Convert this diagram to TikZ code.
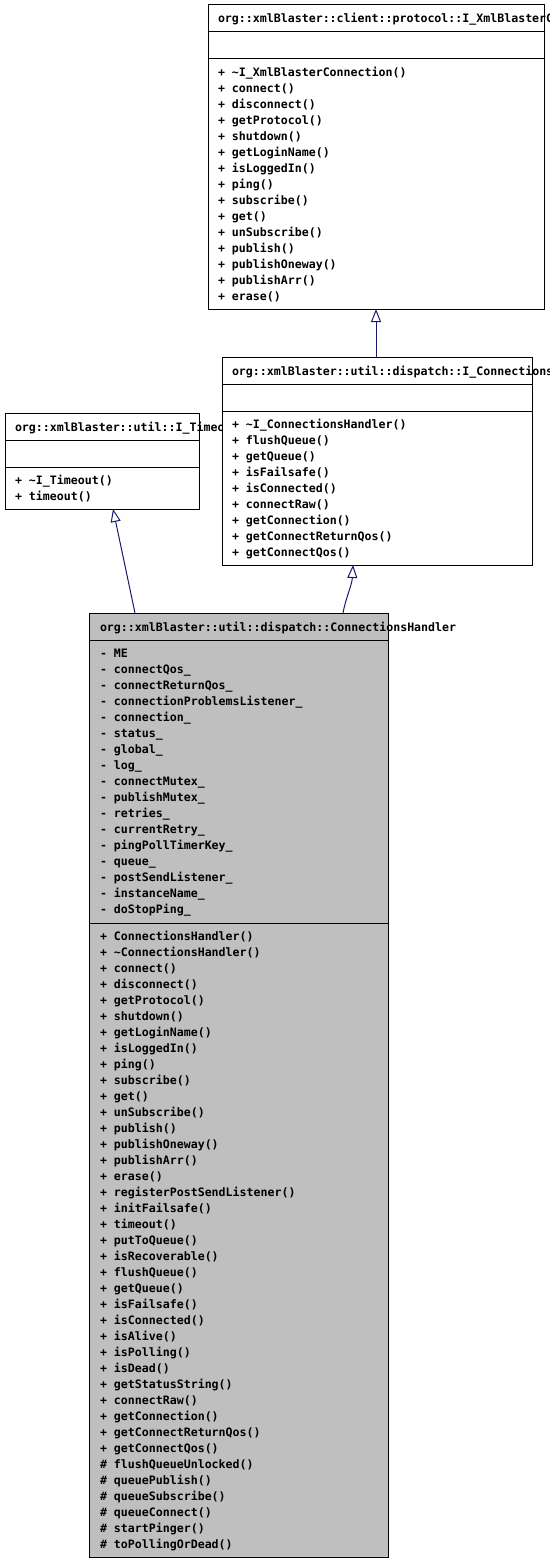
\documentclass[tikz,border=0pt]{standalone}
\usepackage{fontspec}
\setmonofont{DejaVu Sans Mono}
\usetikzlibrary{arrows.meta,calc}
\definecolor{edgeblue}{HTML}{191970}
\definecolor{dgrey}{HTML}{BFBFBF}
\newcommand\mfont{\ttfamily\bfseries\fontsize{11.6}{14}\selectfont}
\tikzset{
  cls/.style={draw=black, line width=1pt, anchor=north west, inner sep=0pt, outer sep=0pt},
  mem/.style={anchor=west, inner sep=0pt, outer sep=0pt, font=\mfont, text height=8.4pt, text depth=0pt},
  inh/.style={draw=edgeblue, line width=1pt, -{Triangle[open, length=13pt, width=10pt, line width=1pt]}},
}
\begin{document}
\begin{tikzpicture}[x=1pt,y=-1pt]
\useasboundingbox (0,0) rectangle (549,1562);
\clip (0,0) rectangle (549,1562);
\fill[white] (0,0) rectangle (549,1562);
% ---- Box A: I_XmlBlasterConnection
\node[cls, fill=white, minimum width=336pt, minimum height=304pt] (A) at (208,5) {};
\draw[line width=1pt] (208,32) -- (544,32) (208,59) -- (544,59);
\node[mem] (At) at (218,18.5) {org::xmlBlaster::client::protocol::I\_XmlBlasterConnection};
\foreach \t [count=\i from 0] in {\textasciitilde I\_XmlBlasterConnection(),connect(),disconnect(),getProtocol(),shutdown(),getLoginName(),isLoggedIn(),ping(),subscribe(),get(),unSubscribe(),publish(),publishOneway(),publishArr(),erase()}
  \node[mem] (Am\i) at (218,{72+16*\i}) {+ \t};
% ---- Box C: I_Timeout
\node[cls, fill=white, minimum width=194pt, minimum height=96pt] (C) at (5,413) {};
\draw[line width=1pt] (5,440) -- (199,440) (5,467) -- (199,467);
\node[mem] (Ct) at (15,427) {org::xmlBlaster::util::I\_Timeout};
\foreach \t [count=\i from 0] in {\textasciitilde I\_Timeout(),timeout()}
  \node[mem] (Cm\i) at (15,{480+16*\i}) {+ \t};
% ---- Box B: I_ConnectionsHandler
\node[cls, fill=white, minimum width=310pt, minimum height=208pt] (B) at (222,357) {};
\draw[line width=1pt] (222,384) -- (532,384) (222,411) -- (532,411);
\node[mem] (Bt) at (232,371) {org::xmlBlaster::util::dispatch::I\_ConnectionsHandler};
\foreach \t [count=\i from 0] in {\textasciitilde I\_ConnectionsHandler(),flushQueue(),getQueue(),isFailsafe(),isConnected(),connectRaw(),getConnection(),getConnectReturnQos(),getConnectQos()}
  \node[mem] (Bm\i) at (232,{424+16*\i}) {+ \t};
% ---- Box D: ConnectionsHandler
\node[cls, fill=dgrey, minimum width=299pt, minimum height=944pt] (D) at (89,613) {};
\draw[line width=1pt] (89,640) -- (388,640) (89,923) -- (388,923);
\node[mem] (Dt) at (100,627) {org::xmlBlaster::util::dispatch::ConnectionsHandler};
\foreach \t [count=\i from 0] in {ME,connectQos\_,connectReturnQos\_,connectionProblemsListener\_,connection\_,status\_,global\_,log\_,connectMutex\_,publishMutex\_,retries\_,currentRetry\_,pingPollTimerKey\_,queue\_,postSendListener\_,instanceName\_,doStopPing\_}
  \node[mem] (Da\i) at (100,{653.5+16*\i}) {- \t};
\foreach \t [count=\i from 0] in {ConnectionsHandler(),\textasciitilde ConnectionsHandler(),connect(),disconnect(),getProtocol(),shutdown(),getLoginName(),isLoggedIn(),ping(),subscribe(),get(),unSubscribe(),publish(),publishOneway(),publishArr(),erase(),registerPostSendListener(),initFailsafe(),timeout(),putToQueue(),isRecoverable(),flushQueue(),getQueue(),isFailsafe(),isConnected(),isAlive(),isPolling(),isDead(),getStatusString(),connectRaw(),getConnection(),getConnectReturnQos(),getConnectQos()}
  \node[mem] (Dm\i) at (100,{936+16*\i}) {+ \t};
\foreach \t [count=\i from 0] in {flushQueueUnlocked(),queuePublish(),queueSubscribe(),queueConnect(),startPinger(),toPollingOrDead()}
  \node[mem] (Dp\i) at (100,{1464+16*\i}) {\# \t};
% ---- Inheritance connectors
\draw[inh] (A.south |- B.north) -- (A.south);
\coordinate (cd1) at ([xshift=-103.5pt]D.north);
\coordinate (cd2) at ([xshift=11pt]C.south);
\draw[inh] (cd1) -- (cd2);
\coordinate (bd1) at ([xshift=104.5pt]D.north);
\coordinate (bd2) at ([xshift=-24pt]B.south);
\draw[inh] (bd1) .. controls ($(bd1)+(3,-16)$) and ($(bd2)+(-1,20)$) .. (bd2);
\end{tikzpicture}
\end{document}
